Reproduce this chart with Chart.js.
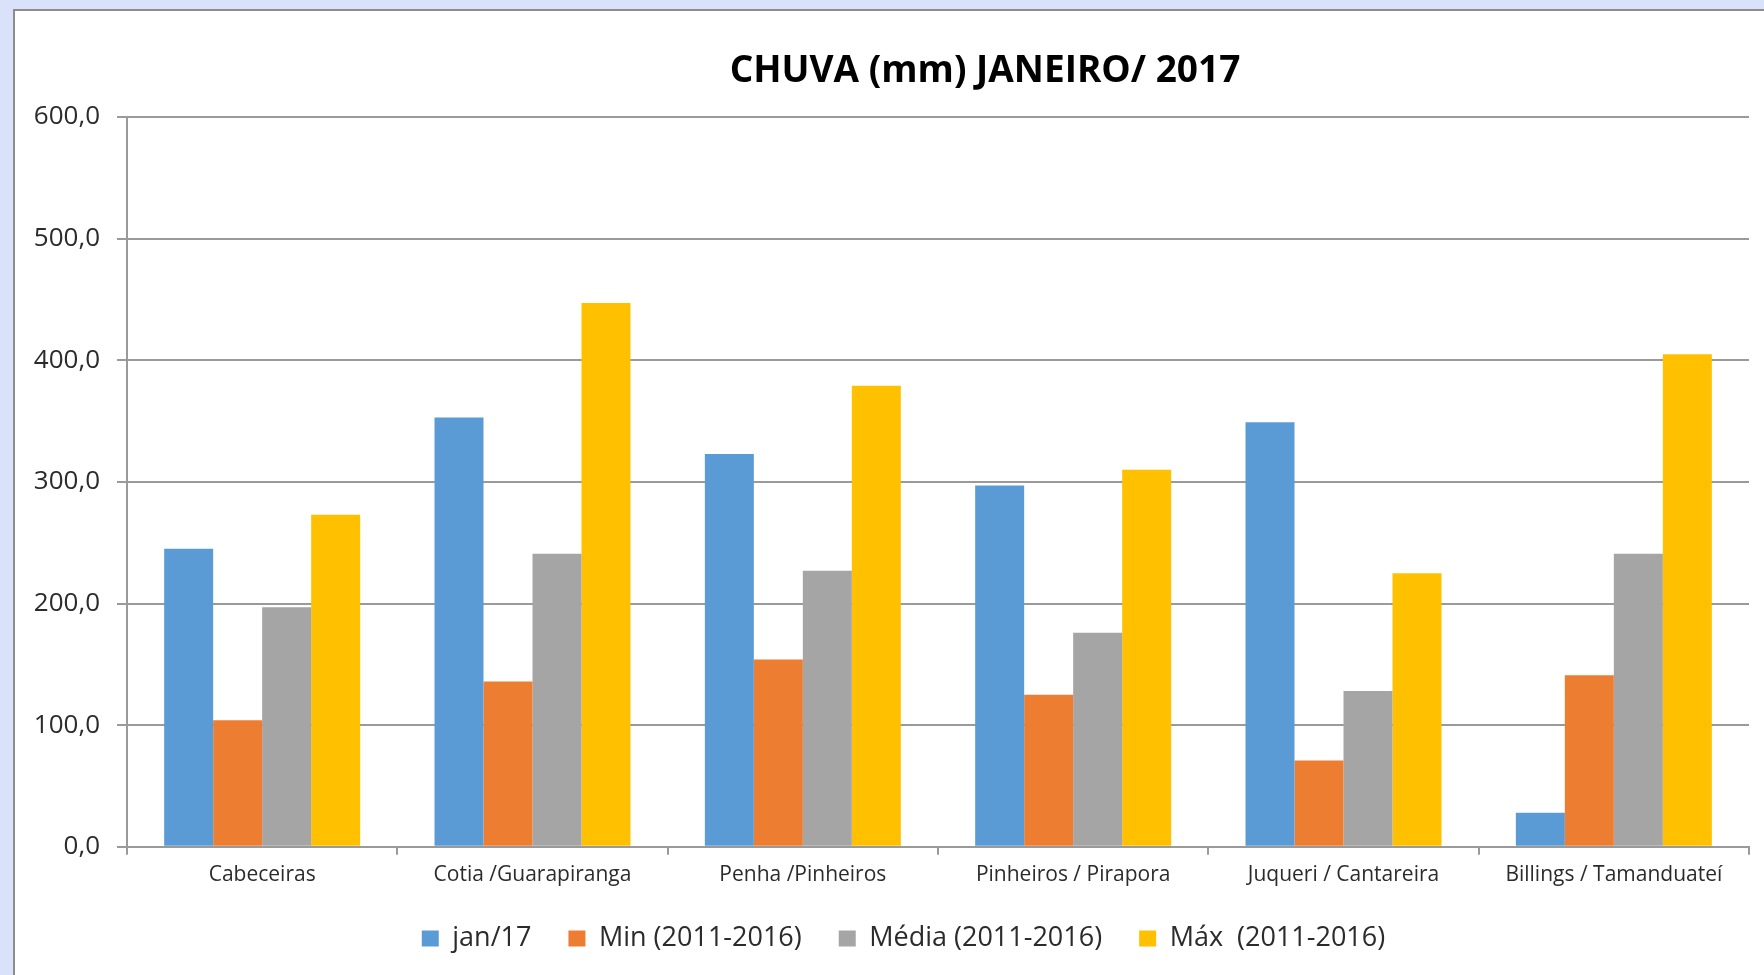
<!DOCTYPE html>
<html>
<head>
<meta charset="utf-8">
<script src="https://cdn.jsdelivr.net/npm/chart.js@4.4.1/dist/chart.umd.min.js"></script>
<style>
  html, body { margin: 0; padding: 0; width: 1764px; height: 975px; overflow: hidden; background: #d9e2f9; }
  #frame { position: absolute; left: 13px; top: 9px; width: 1800px; height: 1000px; border: 2px solid #8c8c8c; background: #ffffff; }
  #c { position: absolute; left: 0; top: 0; }
</style>
</head>
<body>
<div id="frame"></div>
<canvas id="c" width="1764" height="975"></canvas>
<script>
// ---- data ----
const categories = ['Cabeceiras', 'Cotia /Guarapiranga', 'Penha /Pinheiros', 'Pinheiros / Pirapora', 'Juqueri / Cantareira', 'Billings / Tamanduateí'];
const seriesNames = ['jan/17', 'Min (2011-2016)', 'Média (2011-2016)', 'Máx  (2011-2016)'];
const jan17 = [245, 353, 323, 297, 349, 28];
const minValues = [104, 136, 154, 125, 71, 141];
const mediaValues = [197, 241, 227, 176, 128, 241];
const maxValues = [273, 447, 379, 310, 225, 405];
const yTickValues = [0, 100, 200, 300, 400, 500, 600];
const titleText = 'CHUVA (mm) JANEIRO/ 2017';

// ---- styles ----
const seriesColors = ['#5b9bd5', '#ed7d31', '#a5a5a5', '#ffc000'];
const gridColor = '#9a9a9a';
const textColor = '#2b2b2b';
const FONT = 'Open Sans';

const allSeries = [jan17, minValues, mediaValues, maxValues];

const boxShift = {
  id: 'boxShift',
  afterLayout(chart) {
    const t = chart.titleBlock;
    if (t) { const dx = 985 - (t.left + t.right) / 2; t.left += dx; t.right += dx; }
    const l = chart.legend;
    if (l) {
      const dx = 903.5 - (l.left + l.right) / 2; l.left += dx; l.right += dx;
      l.top -= 8; l.bottom -= 8;
    }
  }
};

function build() {
  new Chart(document.getElementById('c'), {
    type: 'bar',
    data: {
      labels: categories,
      datasets: allSeries.map((vals, i) => ({
        label: seriesNames[i],
        data: vals,
        backgroundColor: seriesColors[i],
        borderWidth: 0,
        categoryPercentage: 0.725,
        barPercentage: 1.0
      }))
    },
    options: {
      responsive: false,
      animation: false,
      devicePixelRatio: 1,
      layout: { padding: { left: 0, right: 15, top: 0, bottom: 5 } },
      plugins: {
        title: {
          display: true,
          text: titleText,
          color: '#000000',
          font: { family: FONT, size: 37, weight: 'bold', lineHeight: 1.2 },
          padding: { top: 49, bottom: 23.6 }
        },
        legend: {
          position: 'bottom',
          labels: {
            boxWidth: 17,
            boxHeight: 16,
            padding: 37,
            color: textColor,
            font: { family: FONT, size: 27 }
          }
        },
        tooltip: { enabled: false }
      },
      scales: {
        x: {
          grid: { offset: true, drawOnChartArea: false, drawTicks: true, tickLength: 8, color: gridColor, lineWidth: 2 },
          border: { display: true, color: gridColor, width: 2 },
          ticks: { color: textColor, font: { family: FONT, size: 21 }, padding: 8, maxRotation: 0, autoSkip: false }
        },
        y: {
          min: yTickValues[0],
          max: yTickValues[yTickValues.length - 1],
          afterFit(scale) { scale.width = 127; },
          afterBuildTicks(scale) { scale.ticks = yTickValues.map(v => ({ value: v })); },
          ticks: {
            color: textColor,
            font: { family: FONT, size: 26 },
            padding: 17,
            callback: (v) => Number(v).toFixed(1).replace('.', ',')
          },
          grid: { color: gridColor, lineWidth: 2, tickLength: 10, drawTicks: true },
          border: { display: true, color: gridColor, width: 2 }
        }
      }
    },
    plugins: [boxShift]
  });
}

Promise.all([
  document.fonts.load('27px "Open Sans"'),
  document.fonts.load('bold 37px "Open Sans"')
]).then(build, build);
</script>
</body>
</html>
